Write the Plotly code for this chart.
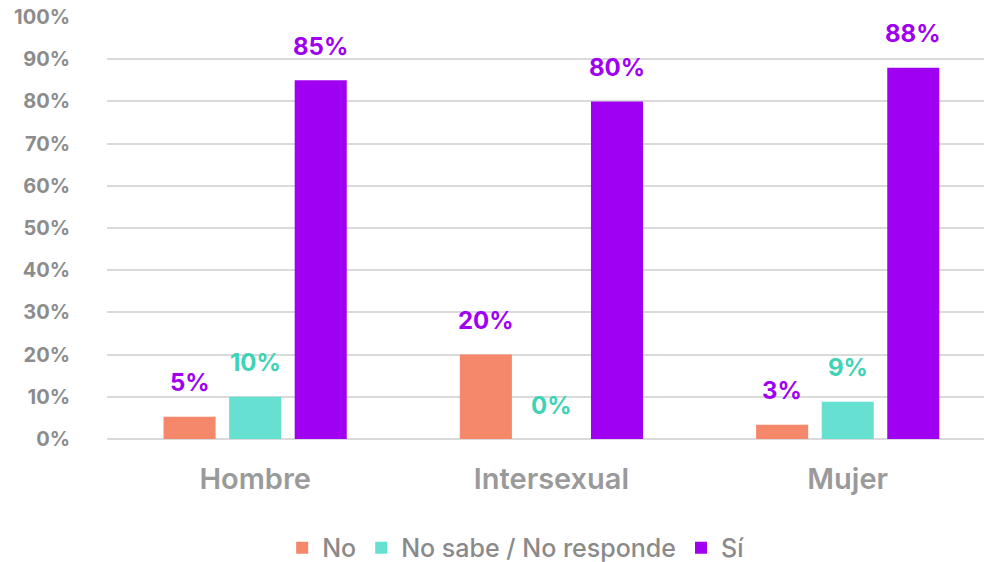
import plotly.graph_objects as go

categories = ["Hombre", "Intersexual", "Mujer"]
series_names = ["No", "No sabe / No responde", "Sí"]
no_vals = [5.3, 20.0, 3.4]
nsnr_vals = [10.0, 0.0, 8.8]
si_vals = [85.0, 80.0, 88.0]
y_ticks = [0, 10, 20, 30, 40, 50, 60, 70, 80, 90, 100]
y_tick_labels = ["0%", "10%", "20%", "30%", "40%", "50%", "60%", "70%", "80%", "90%", "100%"]

bar_colors = ["#F5876A", "#66E1D1", "#A000F2"]
label_colors = ["#A000F2", "#3FD3B6", "#A000F2"]
FONT = "Inter"

fig = go.Figure()
all_vals = [no_vals, nsnr_vals, si_vals]
for name, vals, color in zip(series_names, all_vals, bar_colors):
    fig.add_trace(go.Bar(
        x=categories, y=vals, name=name,
        marker=dict(color=color, line=dict(width=0)),
    ))

# value labels floating above each bar
for i, (vals, lcolor) in enumerate(zip(all_vals, label_colors)):
    for cat, v in zip(categories, vals):
        fig.add_annotation(
            x=cat, y=v, text=f"<b>{round(v)}%</b>", showarrow=False,
            xshift=(i - 1) * 65.5, yshift=34, yanchor="middle",
            font=dict(family=FONT, size=24, color=lcolor, weight=800),
        )

fig.update_layout(
    width=984, height=562,
    margin=dict(l=107, r=0, t=17, b=123),
    plot_bgcolor="white", paper_bgcolor="white",
    barmode="group", bargap=0.336, bargroupgap=0.206,
    showlegend=True,
    legend=dict(
        orientation="h", x=0.466, xanchor="center",
        yref="container", y=0.025, yanchor="middle",
        font=dict(family=FONT, size=25, color="#8A8A8A", weight=500),
        itemwidth=30, traceorder="normal",
    ),
)
fig.update_xaxes(
    range=[-0.5, 2.46], showgrid=False, showline=False, zeroline=False,
    tickfont=dict(family=FONT, size=29, color="#9A9A9A", weight=600),
    ticklabelstandoff=20, automargin=False,
)
fig.update_yaxes(
    range=[0, 100], tickvals=y_ticks, ticktext=y_tick_labels,
    showgrid=True, gridcolor="#DADADA", gridwidth=2,
    zeroline=True, zerolinecolor="#DADADA", zerolinewidth=2,
    tickfont=dict(family=FONT, size=20, color="#8C8C8C", weight=700),
    ticklabelstandoff=36, automargin=False,
)

# drop the default page margin so the chart sits at the window origin
fig.write_html(
    "out.html",
    config={"displayModeBar": False},
    post_script="document.body.style.margin='0';",
)
